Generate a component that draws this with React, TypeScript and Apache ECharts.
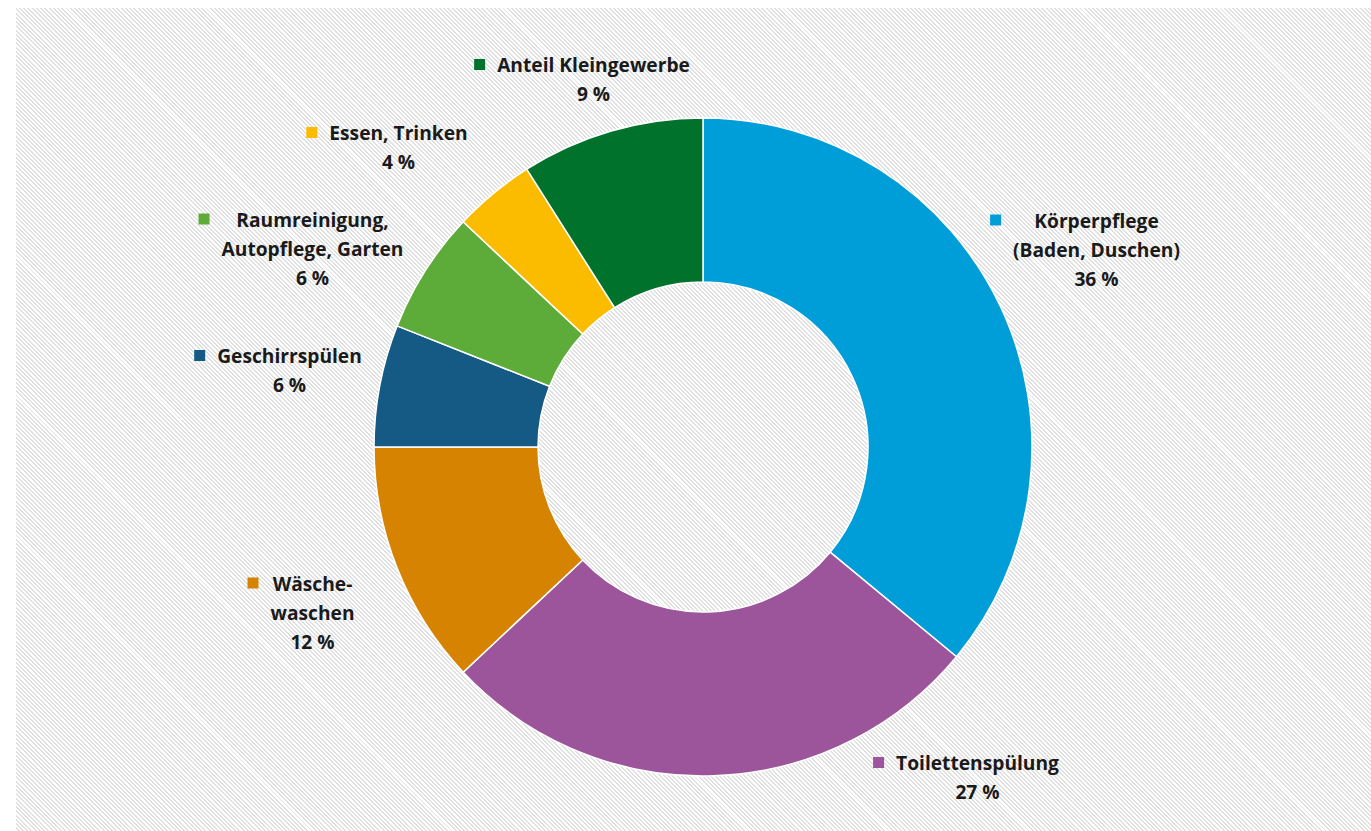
import React, { useEffect, useRef } from "react";
import * as echarts from "echarts";

const categories = [
  "Körperpflege\n(Baden, Duschen)",
  "Toilettenspülung",
  "Wäsche-\nwaschen",
  "Geschirrspülen",
  "Raumreinigung,\nAutopflege, Garten",
  "Essen, Trinken",
  "Anteil Kleingewerbe",
];
const shares = [36, 27, 12, 6, 6, 4, 9];
const colors = ["#009ed8", "#9c559a", "#d58300", "#155a85", "#5dab38", "#fbbc00", "#00722b"];

// label block centres (layout only, container pixels)
const labelCenters: [number, number][] = [
  [1069, 241],
  [950, 769],
  [285, 604],
  [262, 362],
  [285, 240],
  [371, 139],
  [566, 71],
];

export default function App() {
  const ref = useRef<HTMLDivElement>(null);
  useEffect(() => {
    if (!ref.current) return;
    const chart = echarts.init(ref.current, undefined, { renderer: "svg" });
    const font = { fontFamily: "Open Sans", fontWeight: 700 as const, fontSize: 19.2, color: "#1a1a1a", lineHeight: 29 };
    const rich: Record<string, any> = {
      t: { ...font, align: "center" },
      gap: { width: 12, height: 11, align: "left", lineHeight: 29 },
      pad: { width: 23, height: 11, align: "left", lineHeight: 29 },
    };
    colors.forEach((c, i) => {
      rich["sq" + i] = { width: 11, height: 11, backgroundColor: c, align: "left", lineHeight: 29 };
    });
    chart.setOption({
      animation: false,
      backgroundColor: "transparent",
      series: [
        {
          type: "pie",
          center: [687, 439],
          radius: [165, 329],
          startAngle: 90,
          clockwise: true,
          avoidLabelOverlap: false,
          itemStyle: { borderColor: "#ffffff", borderWidth: 1.5 },
          labelLine: { show: false },
          label: {
            show: true,
            position: "outside",
            align: "center",
            ...font,
            rich,
            formatter: (p: any) => {
              const lines = String(p.name).split("\n").concat(p.value + " %");
              return lines
                .map((l, k) => (k === 0 ? `{sq${p.dataIndex}|}{gap|}{t|${l}}` : `{pad|}{t|${l}}`))
                .join("\n");
            },
          },
          labelLayout: (params: any) => {
            const c = labelCenters[params.dataIndex];
            return { x: c[0], y: c[1], align: "center", verticalAlign: "middle", hideOverlap: false };
          },
          emphasis: { disabled: true },
          data: categories.map((name, i) => ({
            name,
            value: shares[i],
            itemStyle: { color: colors[i] },
          })),
        },
      ],
    });
    return () => chart.dispose();
  }, []);
  return (
    <div
      style={{
        position: "absolute",
        left: 16,
        top: 8,
        width: 1355,
        height: 823,
        background:
          "repeating-linear-gradient(45deg, #ffffff 0px, #ffffff 1.6px, #e0e0e0 1.6px, #e0e0e0 3px)",
      }}
    >
      <div ref={ref} style={{ width: "100%", height: "100%" }} />
    </div>
  );
}
